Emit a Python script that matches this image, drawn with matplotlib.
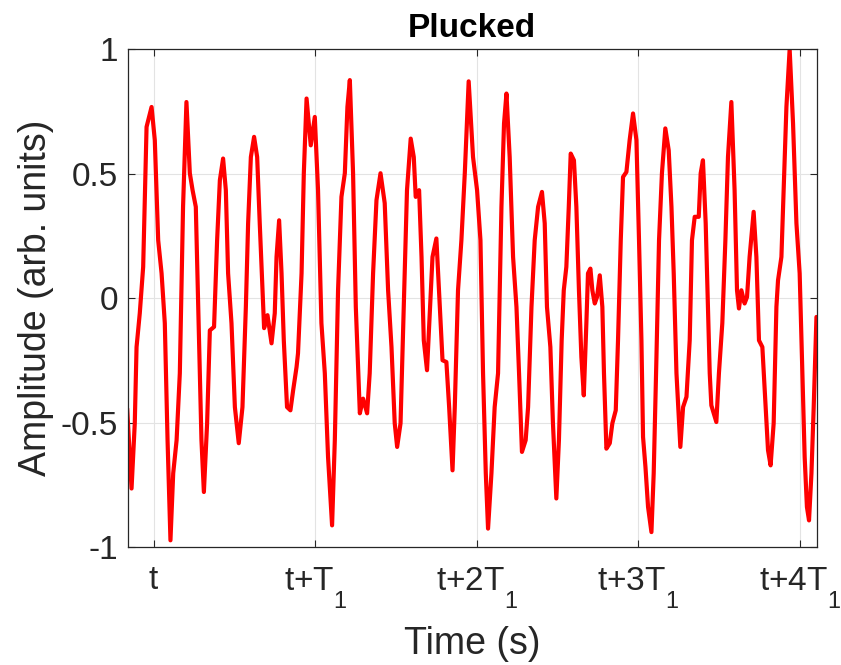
import numpy as np
import matplotlib
matplotlib.use('Agg')
import matplotlib.pyplot as plt
import matplotlib._mathtext as mathtext_internals

plt.rcParams['font.family'] = ['Liberation Sans', 'DejaVu Sans']
plt.rcParams['mathtext.fontset'] = 'custom'
plt.rcParams['mathtext.rm'] = 'Liberation Sans'
plt.rcParams['mathtext.it'] = 'Liberation Sans'
# MATLAB drops the subscript lower than mathtext does
if hasattr(mathtext_internals, 'FontConstantsBase'):
    mathtext_internals.FontConstantsBase.sub1 = 1.0

# time in units of T1 (0 = t), amplitude in arb. units
time = [
    -0.165, -0.138, -0.118, -0.107, -0.087, -0.066, -0.045, -0.014, 0.006, 0.027,
    0.048, 0.068, 0.085, 0.103, 0.120, 0.141, 0.161, 0.181, 0.202, 0.223,
    0.240, 0.260, 0.280, 0.295, 0.310, 0.330, 0.347, 0.373, 0.392, 0.409,
    0.429, 0.446, 0.460, 0.481, 0.502, 0.526, 0.549, 0.570, 0.584, 0.601,
    0.621, 0.640, 0.656, 0.673, 0.683, 0.704, 0.729, 0.749, 0.760, 0.776,
    0.791, 0.805, 0.825, 0.846, 0.863, 0.884, 0.893, 0.915, 0.929, 0.946,
    0.972, 0.997, 1.017, 1.038, 1.059, 1.079, 1.104, 1.121, 1.141, 1.162,
    1.183, 1.199, 1.214, 1.234, 1.251, 1.276, 1.296, 1.321, 1.337, 1.358,
    1.379, 1.404, 1.430, 1.451, 1.472, 1.492, 1.507, 1.528, 1.548, 1.568,
    1.591, 1.610, 1.622, 1.643, 1.658, 1.672, 1.692, 1.709, 1.726, 1.750,
    1.771, 1.788, 1.812, 1.829, 1.850, 1.864, 1.884, 1.905, 1.926, 1.950,
    1.977, 2.002, 2.023, 2.039, 2.056, 2.070, 2.091, 2.111, 2.132, 2.153,
    2.169, 2.184, 2.204, 2.225, 2.246, 2.262, 2.280, 2.303, 2.318, 2.339,
    2.359, 2.380, 2.404, 2.421, 2.435, 2.456, 2.472, 2.493, 2.509, 2.526,
    2.539, 2.555, 2.570, 2.582, 2.602, 2.617, 2.633, 2.648, 2.663, 2.679,
    2.689, 2.704, 2.716, 2.731, 2.745, 2.762, 2.778, 2.788, 2.803, 2.824,
    2.840, 2.861, 2.875, 2.892, 2.906, 2.927, 2.947, 2.968, 2.989, 3.005,
    3.020, 3.030, 3.045, 3.061, 3.082, 3.096, 3.113, 3.129, 3.147, 3.168,
    3.189, 3.206, 3.220, 3.237, 3.261, 3.278, 3.299, 3.319, 3.333, 3.350,
    3.375, 3.387, 3.401, 3.418, 3.432, 3.443, 3.453, 3.484, 3.500, 3.521,
    3.540, 3.556, 3.577, 3.597, 3.612, 3.624, 3.639, 3.659, 3.674, 3.690,
    3.715, 3.732, 3.748, 3.769, 3.789, 3.804, 3.820, 3.839, 3.856, 3.866,
    3.887, 3.901, 3.918, 3.938, 3.959, 3.980, 4.000, 4.017, 4.031, 4.045,
    4.058, 4.073, 4.087, 4.104,
]
amplitude = [
    -0.443, -0.764, -0.502, -0.196, -0.060, 0.126, 0.688, 0.768, 0.635, 0.233,
    0.100, -0.100, -0.570, -0.972, -0.703, -0.570, -0.301, 0.367, 0.788, 0.502,
    0.434, 0.367, -0.169, -0.570, -0.778, -0.502, -0.129, -0.115, 0.233, 0.474,
    0.561, 0.434, 0.100, -0.100, -0.437, -0.582, -0.437, -0.035, 0.301, 0.567,
    0.648, 0.567, 0.301, 0.032, -0.120, -0.068, -0.181, -0.060, 0.166, 0.313,
    0.100, -0.169, -0.437, -0.450, -0.369, -0.276, -0.221, 0.100, 0.502, 0.802,
    0.614, 0.728, 0.434, -0.100, -0.301, -0.637, -0.912, -0.570, 0.032, 0.407,
    0.502, 0.768, 0.876, 0.502, -0.035, -0.462, -0.403, -0.462, -0.301, 0.100,
    0.394, 0.502, 0.382, 0.032, -0.196, -0.502, -0.597, -0.502, -0.035, 0.434,
    0.641, 0.567, 0.407, 0.434, 0.166, -0.169, -0.289, -0.060, 0.166, 0.240,
    -0.035, -0.249, -0.256, -0.437, -0.691, -0.437, 0.032, 0.233, 0.502, 0.871,
    0.567, 0.434, 0.233, -0.301, -0.703, -0.925, -0.703, -0.437, -0.301, 0.367,
    0.702, 0.822, 0.567, 0.166, -0.035, -0.301, -0.617, -0.570, -0.437, -0.035,
    0.233, 0.367, 0.427, 0.301, -0.035, -0.196, -0.502, -0.804, -0.570, -0.169,
    0.032, 0.126, 0.367, 0.581, 0.554, 0.367, 0.032, -0.236, -0.390, -0.100,
    0.100, 0.119, 0.032, -0.021, 0.005, 0.092, -0.035, -0.301, -0.604, -0.582,
    -0.502, -0.450, -0.169, 0.233, 0.487, 0.507, 0.635, 0.742, 0.635, 0.233,
    -0.169, -0.557, -0.678, -0.838, -0.939, -0.703, -0.236, 0.233, 0.502, 0.682,
    0.594, 0.367, 0.100, -0.301, -0.597, -0.437, -0.396, -0.169, 0.233, 0.327,
    0.327, 0.502, 0.554, 0.301, -0.035, -0.301, -0.430, -0.497, -0.301, -0.100,
    0.233, 0.567, 0.788, 0.434, 0.032, -0.041, 0.032, -0.021, 0.005, 0.166,
    0.347, 0.166, -0.169, -0.196, -0.437, -0.610, -0.671, -0.502, -0.035, 0.072,
    0.166, 0.434, 0.768, 1.000, 0.702, 0.301, 0.100, -0.301, -0.637, -0.838,
    -0.892, -0.703, -0.437, -0.075,
]

xtick_pos = [0, 1, 2, 3, 4]
xtick_labels = [r'$\mathregular{t}$', r'$\mathregular{t{+}T_1}$', r'$\mathregular{t{+}2T_1}$',
                r'$\mathregular{t{+}3T_1}$', r'$\mathregular{t{+}4T_1}$']
ytick_pos = [-1, -0.5, 0, 0.5, 1]
ytick_labels = ['-1', '-0.5', '0', '0.5', '1']

fig = plt.figure(figsize=(8.41, 6.65), dpi=100)
ax = fig.add_axes([0.152, 0.177, 0.819, 0.749])

ax.plot(time, amplitude, color='#ff0000', linewidth=3.0,
        solid_joinstyle='round', solid_capstyle='round')

ax.set_xlim(-0.161, 4.105)
ax.set_ylim(-1, 1)
ax.set_xticks(xtick_pos)
ax.set_xticklabels(xtick_labels)
ax.set_yticks(ytick_pos)
ax.set_yticklabels(ytick_labels)

ax.grid(True, color='#e3e3e3', linewidth=0.8)
ax.set_axisbelow(True)
ax.tick_params(direction='in', length=5, width=0.8, colors='#262626', labelsize=24,
               top=True, right=True)
ax.tick_params(axis='x', pad=13)
ax.tick_params(axis='y', pad=7)
for s in ax.spines.values():
    s.set_color('#262626')
    s.set_linewidth(0.9)

ax.set_xlabel('Time (s)', fontsize=27, color='#262626', labelpad=11)
ax.set_ylabel('Amplitude (arb. units)', fontsize=27, color='#262626', labelpad=5)
ax.set_title('Plucked', fontsize=24, fontweight='bold', color='black', pad=9)

fig.savefig('out.png', dpi=100)
